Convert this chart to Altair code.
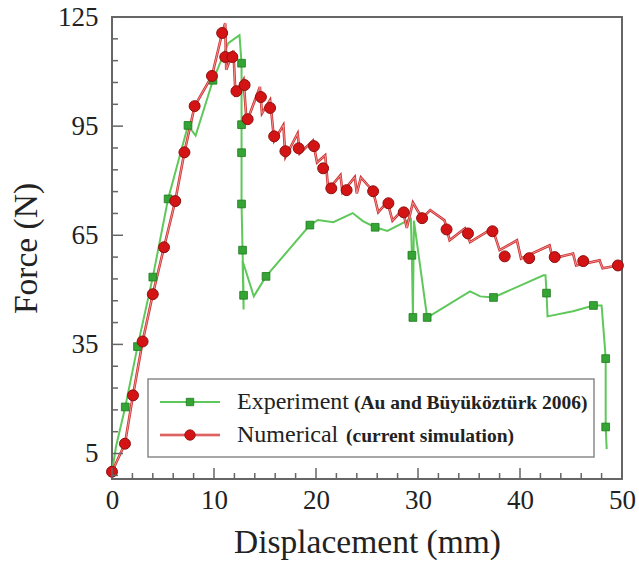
import altair as alt
import pandas as pd

# ---------------- data ----------------
exp_x = [0, 0.4, 1.3, 2.5, 4.0, 5.5, 7.45, 8.2, 9.9, 11.4, 12.5, 12.7, 12.7, 12.7, 12.7, 12.8, 12.9, 12.9,
         12.8, 13.9, 15.1, 19.4, 20.2, 21.7, 23.6, 24.6, 25.8, 27.0, 29.3, 29.4, 29.5, 29.6, 30.9,
         35.1, 36.1, 37.4, 42.3, 42.5, 42.6, 42.7, 45.2, 47.2, 48.0, 48.3, 48.4, 48.4, 48.5]
exp_y = [0, 7, 17.8, 34.4, 53.5, 75, 95.2, 92.4, 107.6, 117.8, 120, 112.3, 95.4, 87.7, 73.6, 60.9, 48.5, 44.6,
         58, 48.2, 53.7, 67.8, 69.2, 68.6, 71.1, 68.9, 67.2, 66.2, 69.5, 59.5, 42.4, 69.0, 42.4,
         49.6, 48.2, 47.9, 54.0, 54.0, 49.1, 42.7, 44.1, 45.7, 45.7, 35.0, 31.1, 12.3, 6.2]
exp_mx = [1.3, 2.5, 4.0, 5.5, 7.45, 9.9, 12.7, 12.7, 12.7, 12.7, 12.8, 12.9, 15.1, 19.4, 25.8,
          29.4, 29.5, 30.9, 37.4, 42.6, 47.2, 48.4, 48.4]
exp_my = [17.8, 34.4, 53.5, 75, 95.2, 107.6, 112.3, 95.4, 87.7, 73.6, 60.9, 48.5, 53.7, 67.8, 67.2,
          59.5, 42.4, 42.4, 47.9, 49.1, 45.7, 31.1, 12.3]

num_x = [0, 1.27, 2.06, 3.0, 4.0, 5.1, 6.2, 7.1, 8.1, 9.8, 10.8, 11.1, 11.2, 11.9, 12.1, 12.9, 13.2,
         14.5, 14.7, 15.5, 15.9, 16.8, 17.0, 18.2, 18.4, 19.7, 20.1, 20.9, 21.2, 22.4, 22.6, 23.8,
         24.0, 24.4, 25.6, 26.1, 27.0, 27.5, 28.5, 28.9, 29.5, 30.4, 31.2, 32.6, 33.1, 34.6, 35.1,
         37.3, 38.0, 39.7, 40.1, 42.9, 43.2, 45.2, 45.5, 47.8, 48.1, 49.6, 50.0]
num_y = [0, 7.7, 21, 35.8, 48.8, 61.7, 74.4, 87.8, 100.5, 108.8, 120.6, 123.3, 110.5, 115.8, 104, 107.8, 96,
         105.8, 98.5, 102.2, 91, 95.3, 86.5, 93, 87.5, 91, 85, 87, 77.5, 81.5, 76.8, 81,
         76.5, 80.9, 77.1, 71.3, 74.2, 69, 72, 67, 74, 69.7, 71.9, 69.1, 63.6, 66.9, 63.1,
         66.9, 60.9, 63.6, 58.6, 62.2, 58.6, 60.0, 56.7, 58.1, 55.9, 56.7, 57.3]
num_mx = [0, 1.27, 2.06, 3.0, 4.0, 5.1, 6.2, 7.1, 8.1, 9.8, 10.8, 11.1, 11.8, 12.2, 13.0, 13.3, 14.6,
          15.5, 15.9, 17.0, 18.3, 19.8, 20.7, 21.5, 23.0, 25.6, 27.1, 28.6, 30.4, 32.8, 34.9, 37.3,
          38.5, 40.9, 43.4, 46.2, 49.6]
num_my = [0, 7.7, 21, 35.8, 48.8, 61.7, 74.4, 87.8, 100.5, 108.8, 120.6, 114, 114, 104.6, 106.3, 96.9, 103,
          100, 92.2, 88.1, 88.9, 89.5, 83.4, 77.9, 77.4, 77.1, 73.8, 71.3, 69.7, 66.6, 65.5, 66.1,
          59.2, 58.7, 59.0, 57.9, 56.7]

x_major = [0, 10, 20, 30, 40, 50]
x_minor = [v for v in range(2, 50, 2) if v % 10 != 0]
y_major = [5, 35, 65, 95, 125]
y_minor = [v for v in range(-1, 125, 6) if (v - 5) % 30 != 0]

legend_main = ["Experiment", "Numerical"]
legend_sub = ["(Au and Büyüköztürk 2006)", "(current simulation)"]

# ---------------- styling ----------------
W, H = 510, 462
FONT = "Liberation Serif"
G_LINE, G_FILL, G_STROKE = "#5fc85a", "#34a534", "#1f7a1f"
R_EDGE, R_LINE, R_FILL, R_STROKE = "#cc3333", "#f29090", "#d41414", "#8c1010"
TICK = "#666666"

xs = alt.Scale(domain=[0, 50], nice=False)
ys = alt.Scale(domain=[-2, 125], nice=False)

exp_df = pd.DataFrame({"x": exp_x, "y": exp_y, "i": range(len(exp_x))})
num_df = pd.DataFrame({"x": num_x, "y": num_y, "i": range(len(num_x))})
expm_df = pd.DataFrame({"x": exp_mx, "y": exp_my})
numm_df = pd.DataFrame({"x": num_mx, "y": num_my})

x_axis = alt.Axis(values=x_major, format="d", title="Displacement (mm)", ticks=False, domain=False, grid=False,
                  labelFlush=False, labelOverlap=False,
                  labelFont=FONT, labelFontSize=27, labelColor="#222", labelPadding=8,
                  titleFont=FONT, titleFontSize=33.5, titleFontWeight="normal", titleColor="#222", titlePadding=13)
y_axis = alt.Axis(values=y_major, format="d", title="Force (N)", ticks=False, domain=False, grid=False,
                  labelFlush=False, labelOverlap=False,
                  labelFont=FONT, labelFontSize=27, labelColor="#222", labelPadding=14,
                  titleFont=FONT, titleFontSize=33.5, titleFontWeight="normal", titleColor="#222", titlePadding=14)


def X(f):
    return alt.X(f, scale=xs, axis=x_axis)


def Y(f):
    return alt.Y(f, scale=ys, axis=y_axis)


green_line = alt.Chart(exp_df).mark_line(color=G_LINE, strokeWidth=2).encode(
    x=X("x:Q"), y=Y("y:Q"), order="i:Q")
red_edge = alt.Chart(num_df).mark_line(color=R_EDGE, strokeWidth=2.6).encode(
    x=X("x:Q"), y=Y("y:Q"), order="i:Q")
red_line = alt.Chart(num_df).mark_line(color=R_LINE, strokeWidth=1).encode(
    x=X("x:Q"), y=Y("y:Q"), order="i:Q")
green_pts = alt.Chart(expm_df).mark_point(shape="square", filled=True, fill=G_FILL, stroke=G_STROKE,
                                          strokeWidth=0.8, size=60, opacity=1).encode(x=X("x:Q"), y=Y("y:Q"))
red_pts = alt.Chart(numm_df).mark_circle(fill=R_FILL, stroke=R_STROKE, strokeWidth=1, size=120,
                                         opacity=1).encode(x=X("x:Q"), y=Y("y:Q"))


def xticks(vals, length):
    return alt.Chart(pd.DataFrame({"v": vals})).mark_rule(color=TICK, strokeWidth=1.5).encode(
        x=X("v:Q"), y=alt.value(H), y2=alt.value(H - length))


def yticks(vals, length):
    return alt.Chart(pd.DataFrame({"v": vals})).mark_rule(color=TICK, strokeWidth=1.5).encode(
        y=Y("v:Q"), x=alt.value(0), x2=alt.value(length))


# ---------------- legend (drawn by hand to allow two font sizes) ----------------
one = pd.DataFrame({"a": [0]})
LX0, LX1, LY0, LY1 = 36, 482, 362, 440
ROWS = [385, 418]
leg_box = alt.Chart(one).mark_rect(fill="white", stroke="#8a8a8a", strokeWidth=1.5).encode(
    x=alt.value(LX0), x2=alt.value(LX1), y=alt.value(LY0), y2=alt.value(LY1))
leg_layers = [leg_box]
styles = [([(G_LINE, 2)], G_FILL, G_STROKE, "square", 55),
          ([(R_EDGE, 2.6), (R_LINE, 1)], R_FILL, R_STROKE, "circle", 110)]
sub_x = [242, 234]
for k in range(2):
    lines, fc, sc, shp, sz = styles[k]
    yy = ROWS[k]
    for lc, lw in lines:
        leg_layers.append(alt.Chart(one).mark_rule(color=lc, strokeWidth=lw).encode(
            x=alt.value(48), x2=alt.value(108), y=alt.value(yy)))
    leg_layers.append(alt.Chart(one).mark_point(shape=shp, filled=True, fill=fc, stroke=sc, strokeWidth=0.8,
                                                size=sz, opacity=1).encode(x=alt.value(78), y=alt.value(yy)))
    leg_layers.append(alt.Chart(pd.DataFrame({"t": [legend_main[k]]})).mark_text(
        align="left", baseline="middle", font=FONT, fontSize=24, color="#222").encode(
        text="t:N", x=alt.value(125), y=alt.value(yy)))
    leg_layers.append(alt.Chart(pd.DataFrame({"t": [legend_sub[k]]})).mark_text(
        align="left", baseline="middle", font=FONT, fontSize=19.5, fontWeight="bold", color="#222").encode(
        text="t:N", x=alt.value(sub_x[k]), y=alt.value(yy + 1)))

chart = alt.layer(
    green_line, red_edge, red_line, green_pts, red_pts,
    xticks(x_major, 11), xticks(x_minor, 6), yticks(y_major, 11), yticks(y_minor, 6),
    *leg_layers
).properties(
    width=W, height=H,
    padding={"left": 112, "top": 17, "right": 17, "bottom": 85},
    autosize=alt.AutoSizeParams(type="none"),
    background="white",
).configure_view(stroke="#666666", strokeWidth=2)

chart.save("out.html", embed_options={"renderer": "svg", "actions": False})
